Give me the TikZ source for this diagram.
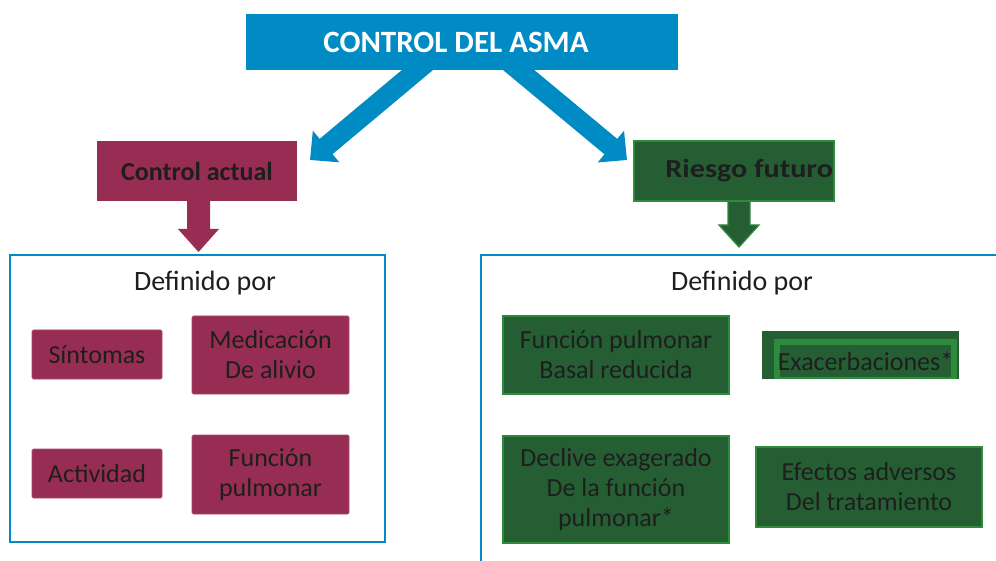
\documentclass[tikz,border=0pt]{standalone}
\usepackage{fontspec}
\usepackage{graphicx}
\setmainfont{Carlito}
\usetikzlibrary{arrows.meta,calc,backgrounds}
\definecolor{asmablue}{RGB}{0,139,196}
\definecolor{maroonc}{RGB}{152,45,84}
\definecolor{dgreen}{RGB}{38,94,52}
\definecolor{lgreen}{RGB}{46,139,60}
\definecolor{ink}{RGB}{30,30,30}
\begin{document}
\begin{tikzpicture}[x=1pt,y=-1pt,
  every node/.style={inner sep=0pt,outer sep=0pt},
  titlebox/.style={fill=asmablue,text=white,font=\fontsize{31}{36}\selectfont\bfseries,minimum width=432pt,minimum height=56pt},
  headbox/.style={text=ink,font=\fontsize{26}{30}\selectfont\bfseries,minimum width=200pt,minimum height=60pt},
  container/.style={draw=asmablue,line width=2.5pt},
  deflabel/.style={text=ink,font=\fontsize{28}{32}\selectfont},
  itembox/.style={text=ink,align=center,font=\fontsize{26}{30}\selectfont},
  mbox/.style={itembox,fill=maroonc,draw=maroonc!85!white,line width=0.8pt,rounded corners=1.5pt},
  gbox/.style={itembox,fill=dgreen,draw=lgreen,line width=1.5pt},
  bluearrow/.style={draw=asmablue,line width=20pt,-{Triangle[length=21pt,width=40pt]}},
]
\useasboundingbox (0,0) rectangle (996,561);

% title
\node[titlebox] (title) at (462,42) {CONTROL DEL ASMA\hspace*{12pt}};

% head boxes
\node[headbox,fill=maroonc] (ca) at (197,171) {Control actual};
\node[headbox,fill=dgreen,draw=lgreen,line width=1.5pt] (rf) at (734,171) {};
\node[headbox,anchor=east,minimum width=0pt,yshift=0.5pt] (rft) at ($(rf.east)+(-1,0)$) {\scalebox{1.16}[1]{Riesgo futuro}};

% blue arrows (behind title)
\coordinate (tipL) at ($(ca.north east)+(13,19)$);
\coordinate (tipR) at ($(rf.north west)+(-7,19)$);
\begin{scope}[on background layer]
  \draw[bluearrow] ($(title.south)+(-35,-8)$) -- (tipL);
  \draw[bluearrow] ($(title.south)+(47,-8)$) -- (tipR);
  % maroon down arrow
  \fill[maroonc] ($(ca.south)+(-10,-1)$) -- ++(0,29) -- ++(-9,0) -- ++(20.5,23) -- ++(20.5,-23) -- ++(-9,0) -- ++(0,-29) -- cycle;
  % green down arrow
  \filldraw[fill=dgreen,draw=lgreen,line width=1.3pt] ($(rf.south)+(-6,-1)$) -- ++(0,25) -- ++(-9,0) -- ++(20,22) -- ++(20,-22) -- ++(-9,0) -- ++(0,-25) -- cycle;
\end{scope}

% containers
\node[container,minimum width=375pt,minimum height=287pt] (lbox) at (197.5,398.5) {};
\begin{scope}
  \clip (0,0) rectangle (996,561);
  \node[container,minimum width=530pt,minimum height=320pt] (rbox) at (746,415) {};
\end{scope}

\node[deflabel] (ldef) at (205,283) {Definido por};
\node[deflabel] (rdef) at (742,283) {Definido por};

% left items
\node[mbox,minimum width=130pt,minimum height=49pt] (sint) at (97,354.5) {Síntomas};
\node[mbox,minimum width=157pt,minimum height=78pt] (med) at (270.5,355) {Medicación\\De alivio};
\node[mbox,minimum width=130pt,minimum height=49pt] (act) at (97,473.5) {Actividad};
\node[mbox,minimum width=157pt,minimum height=79pt] (fpl) at (270.5,474.5) {Función\\pulmonar};

% right items
\node[gbox,minimum width=226pt,minimum height=78pt] (fpb) at (616,355) {Función pulmonar\\Basal reducida};
\node[gbox,minimum width=226pt,minimum height=107pt] (dec) at (616,489.5) {Declive exagerado\\De la función\\pulmonar*};
\node[gbox,minimum width=226pt,minimum height=80pt] (efe) at (869,487) {Efectos adversos\\Del tratamiento};

% exacerbaciones
\node[fill=dgreen,minimum width=197pt,minimum height=48pt] (ex) at (860.5,355) {};
\fill[lgreen] ($(ex.north west)+(12,8)$) rectangle ($(ex.south east)+(-2,0)$);
\fill[dgreen] ($(ex.north west)+(18,14)$) rectangle ($(ex.south east)+(-8,-2)$);
\node[itembox] (ext) at (865.5,361) {Exacerbaciones*};
\end{tikzpicture}
\end{document}
